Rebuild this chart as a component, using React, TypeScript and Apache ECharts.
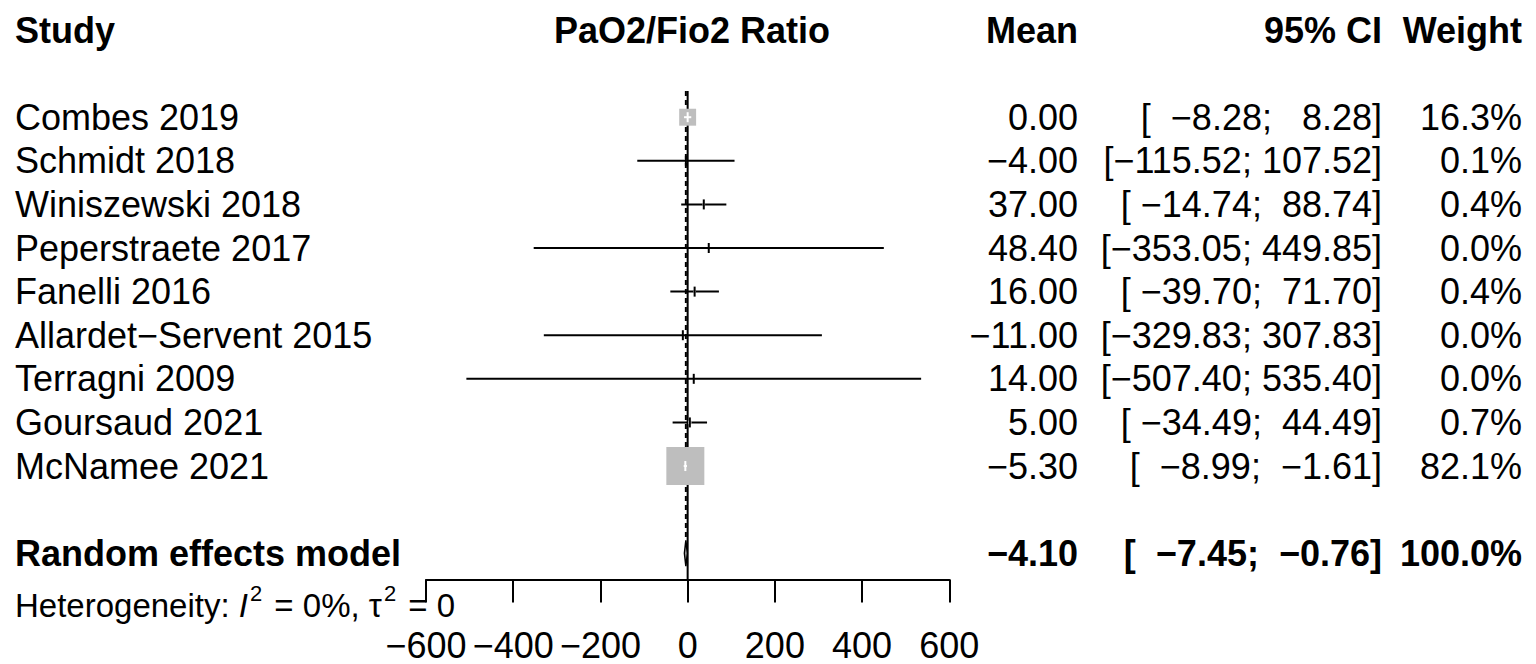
import React, { useEffect, useRef } from 'react';
import * as echarts from 'echarts';

// ---- data ----
const studies = [
  'Combes 2019',
  'Schmidt 2018',
  'Winiszewski 2018',
  'Peperstraete 2017',
  'Fanelli 2016',
  'Allardet\u2212Servent 2015',
  'Terragni 2009',
  'Goursaud 2021',
  'McNamee 2021',
];
const means = [0.0, -4.0, 37.0, 48.4, 16.0, -11.0, 14.0, 5.0, -5.3];
const lowers = [-8.28, -115.52, -14.74, -353.05, -39.7, -329.83, -507.4, -34.49, -8.99];
const uppers = [8.28, 107.52, 88.74, 449.85, 71.7, 307.83, 535.4, 44.49, -1.61];
const weights = [16.3, 0.1, 0.4, 0.0, 0.4, 0.0, 0.0, 0.7, 82.1];

const pooledLabel = 'Random effects model';
const pooledMean = -4.1;
const pooledLower = -7.45;
const pooledUpper = -0.76;
const pooledWeight = 100.0;

const headers = ['Study', 'PaO2/Fio2 Ratio', 'Mean', '95% CI', 'Weight'];
const xMin = -600;
const xMax = 600;
const xInterval = 200;

// ---- style / layout ----
const FONT = '"Liberation Sans", Arial, Helvetica, sans-serif';
const FS = 36;
const HFS = 33;
const GRAY = '#BEBEBE';
const COL_X = [15, 692, 1078, 1382, 1522];
const COL_ALIGN = ['left', 'center', 'right', 'right', 'right'];
const SQ = 38 / Math.sqrt(82.1);
const TICK_H = 10;

const minus = (s: string) => s.replace(/-/g, '\u2212');
const fmt = (v: number, d: number) => minus(v.toFixed(d));

const allLow = [...lowers, pooledLower].map((v) => fmt(v, 2));
const allUp = [...uppers, pooledUpper].map((v) => fmt(v, 2));
const lowW = Math.max(...allLow.map((s) => s.length));
const upW = Math.max(...allUp.map((s) => s.length));
const ciText = (i: number) =>
  '[' + allLow[i].padStart(lowW, ' ') + '; ' + allUp[i].padStart(upW, ' ') + ']';

type Row = { row: number; cells: string[]; bold: boolean };
const tableRows: Row[] = [
  { row: 0, cells: headers, bold: true },
  ...studies.map((s, i) => ({
    row: i + 2,
    cells: [s, '', fmt(means[i], 2), ciText(i), weights[i].toFixed(1) + '%'],
    bold: false,
  })),
  {
    row: 12,
    cells: [pooledLabel, '', fmt(pooledMean, 2), ciText(studies.length), pooledWeight.toFixed(1) + '%'],
    bold: true,
  },
];

export default function App() {
  const ref = useRef<HTMLDivElement>(null);
  useEffect(() => {
    if (!ref.current) return;
    const chart = echarts.init(ref.current, undefined, { renderer: 'svg' });

    const forestData = studies.map((s, i) => [means[i], i + 2, lowers[i], uppers[i], weights[i]]);
    const refData = [
      [0, 1.4, 12.6, 0],
      [pooledMean, 1.4, 11.7, 1],
    ];

    chart.setOption({
      animation: false,
      grid: { left: 426, right: 1536 - 949.3, top: 30, bottom: 664 - 579.4 },
      xAxis: {
        type: 'value',
        min: xMin,
        max: xMax,
        interval: xInterval,
        splitLine: { show: false },
        axisLine: { show: true, onZero: false, lineStyle: { color: '#000', width: 2 } },
        axisTick: { show: true, length: 23, lineStyle: { color: '#000', width: 2 } },
        axisLabel: {
          show: true,
          color: '#000',
          fontSize: FS,
          lineHeight: 34,
          fontFamily: FONT,
          margin: 49,
          formatter: (v: number) => minus(String(v)),
        },
      },
      yAxis: { type: 'value', inverse: true, min: 0, max: 12.6, show: false },
      series: [
        {
          type: 'custom',
          name: 'ref',
          data: refData,
          renderItem: (params: any, api: any) => {
            const x = api.value(0);
            const p1 = api.coord([x, api.value(1)]);
            const p2 = api.coord([x, api.value(2)]);
            const dashed = api.value(3) === 1;
            return {
              type: 'line',
              shape: { x1: p1[0], y1: p1[1], x2: p2[0], y2: p2[1] },
              style: { stroke: '#000', lineWidth: 2, lineDash: dashed ? [5, 4] : null },
            };
          },
        },
        {
          type: 'custom',
          name: 'studies',
          data: forestData,
          renderItem: (params: any, api: any) => {
            const m = api.value(0);
            const row = api.value(1);
            const lo = api.value(2);
            const hi = api.value(3);
            const w = api.value(4);
            const [xm, y] = api.coord([m, row]);
            const xl = api.coord([lo, row])[0];
            const xh = api.coord([hi, row])[0];
            const side = SQ * Math.sqrt(w);
            const children: any[] = [
              {
                type: 'line',
                shape: { x1: xl, y1: y, x2: xh, y2: y },
                style: { stroke: '#000', lineWidth: 2 },
              },
            ];
            if (side > 0) {
              children.push({
                type: 'rect',
                shape: { x: xm - side / 2, y: y - side / 2, width: side, height: side },
                style: { fill: GRAY },
              });
            }
            if (side > TICK_H + 2) {
              children.push({
                type: 'line',
                shape: {
                  x1: Math.max(xl, xm - side / 2),
                  y1: y,
                  x2: Math.min(xh, xm + side / 2),
                  y2: y,
                },
                style: { stroke: '#fff', lineWidth: 2 },
              });
              children.push({
                type: 'line',
                shape: { x1: xm, y1: y - TICK_H / 2, x2: xm, y2: y + TICK_H / 2 },
                style: { stroke: '#fff', lineWidth: 2 },
              });
            } else {
              children.push({
                type: 'line',
                shape: { x1: xm, y1: y - TICK_H / 2, x2: xm, y2: y + TICK_H / 2 },
                style: { stroke: '#000', lineWidth: 2 },
              });
            }
            return { type: 'group', children };
          },
        },
        {
          type: 'custom',
          name: 'pooled',
          data: [[pooledMean, 12, pooledLower, pooledUpper]],
          renderItem: (params: any, api: any) => {
            const [xm, y] = api.coord([api.value(0), api.value(1)]);
            const xl = api.coord([api.value(2), 12])[0];
            const xh = api.coord([api.value(3), 12])[0];
            return {
              type: 'polygon',
              shape: { points: [[xl, y], [xm, y - 13], [xh, y], [xm, y + 13]] },
              style: { fill: GRAY, stroke: '#000', lineWidth: 1.5 },
            };
          },
        },
        {
          type: 'custom',
          name: 'table',
          data: tableRows.map((r) => [0, r.row]),
          renderItem: (params: any, api: any) => {
            const r = tableRows[params.dataIndex];
            const y = api.coord([0, r.row])[1];
            const children = r.cells
              .map((t, c) => ({
                type: 'text',
                x: COL_X[c],
                y,
                style: {
                  text: t,
                  fill: '#000',
                  font: `${r.bold ? 'bold ' : ''}${FS}px ${FONT}`,
                  textAlign: COL_ALIGN[c],
                  align: COL_ALIGN[c],
                  textVerticalAlign: 'middle',
                  verticalAlign: 'middle',
                },
              }))
              .filter((e) => e.style.text !== '');
            return { type: 'group', children };
          },
        },
      ],
      graphic: [
        {
          type: 'text',
          left: 15,
          top: 582,
          style: {
            text: '{n|Heterogeneity: }{i|I}{s|2}{n| = 0%, \u03C4}{s|2}{n| = 0}',
            rich: {
              n: { fontSize: HFS, fontFamily: FONT, fill: '#000', lineHeight: 46, verticalAlign: 'middle' },
              i: { fontSize: HFS, fontFamily: FONT, fontStyle: 'italic', fill: '#000', lineHeight: 46, verticalAlign: 'middle' },
              s: { fontSize: 22, fontFamily: FONT, fill: '#000', lineHeight: 16, verticalAlign: 'top', padding: [0, 3, 0, 2] },
            },
          },
        },
      ],
    });
    return () => chart.dispose();
  }, []);
  return (
    <div
      ref={ref}
      style={{ position: 'absolute', left: 0, top: 0, width: 1536, height: 664, background: '#fff' }}
    />
  );
}
